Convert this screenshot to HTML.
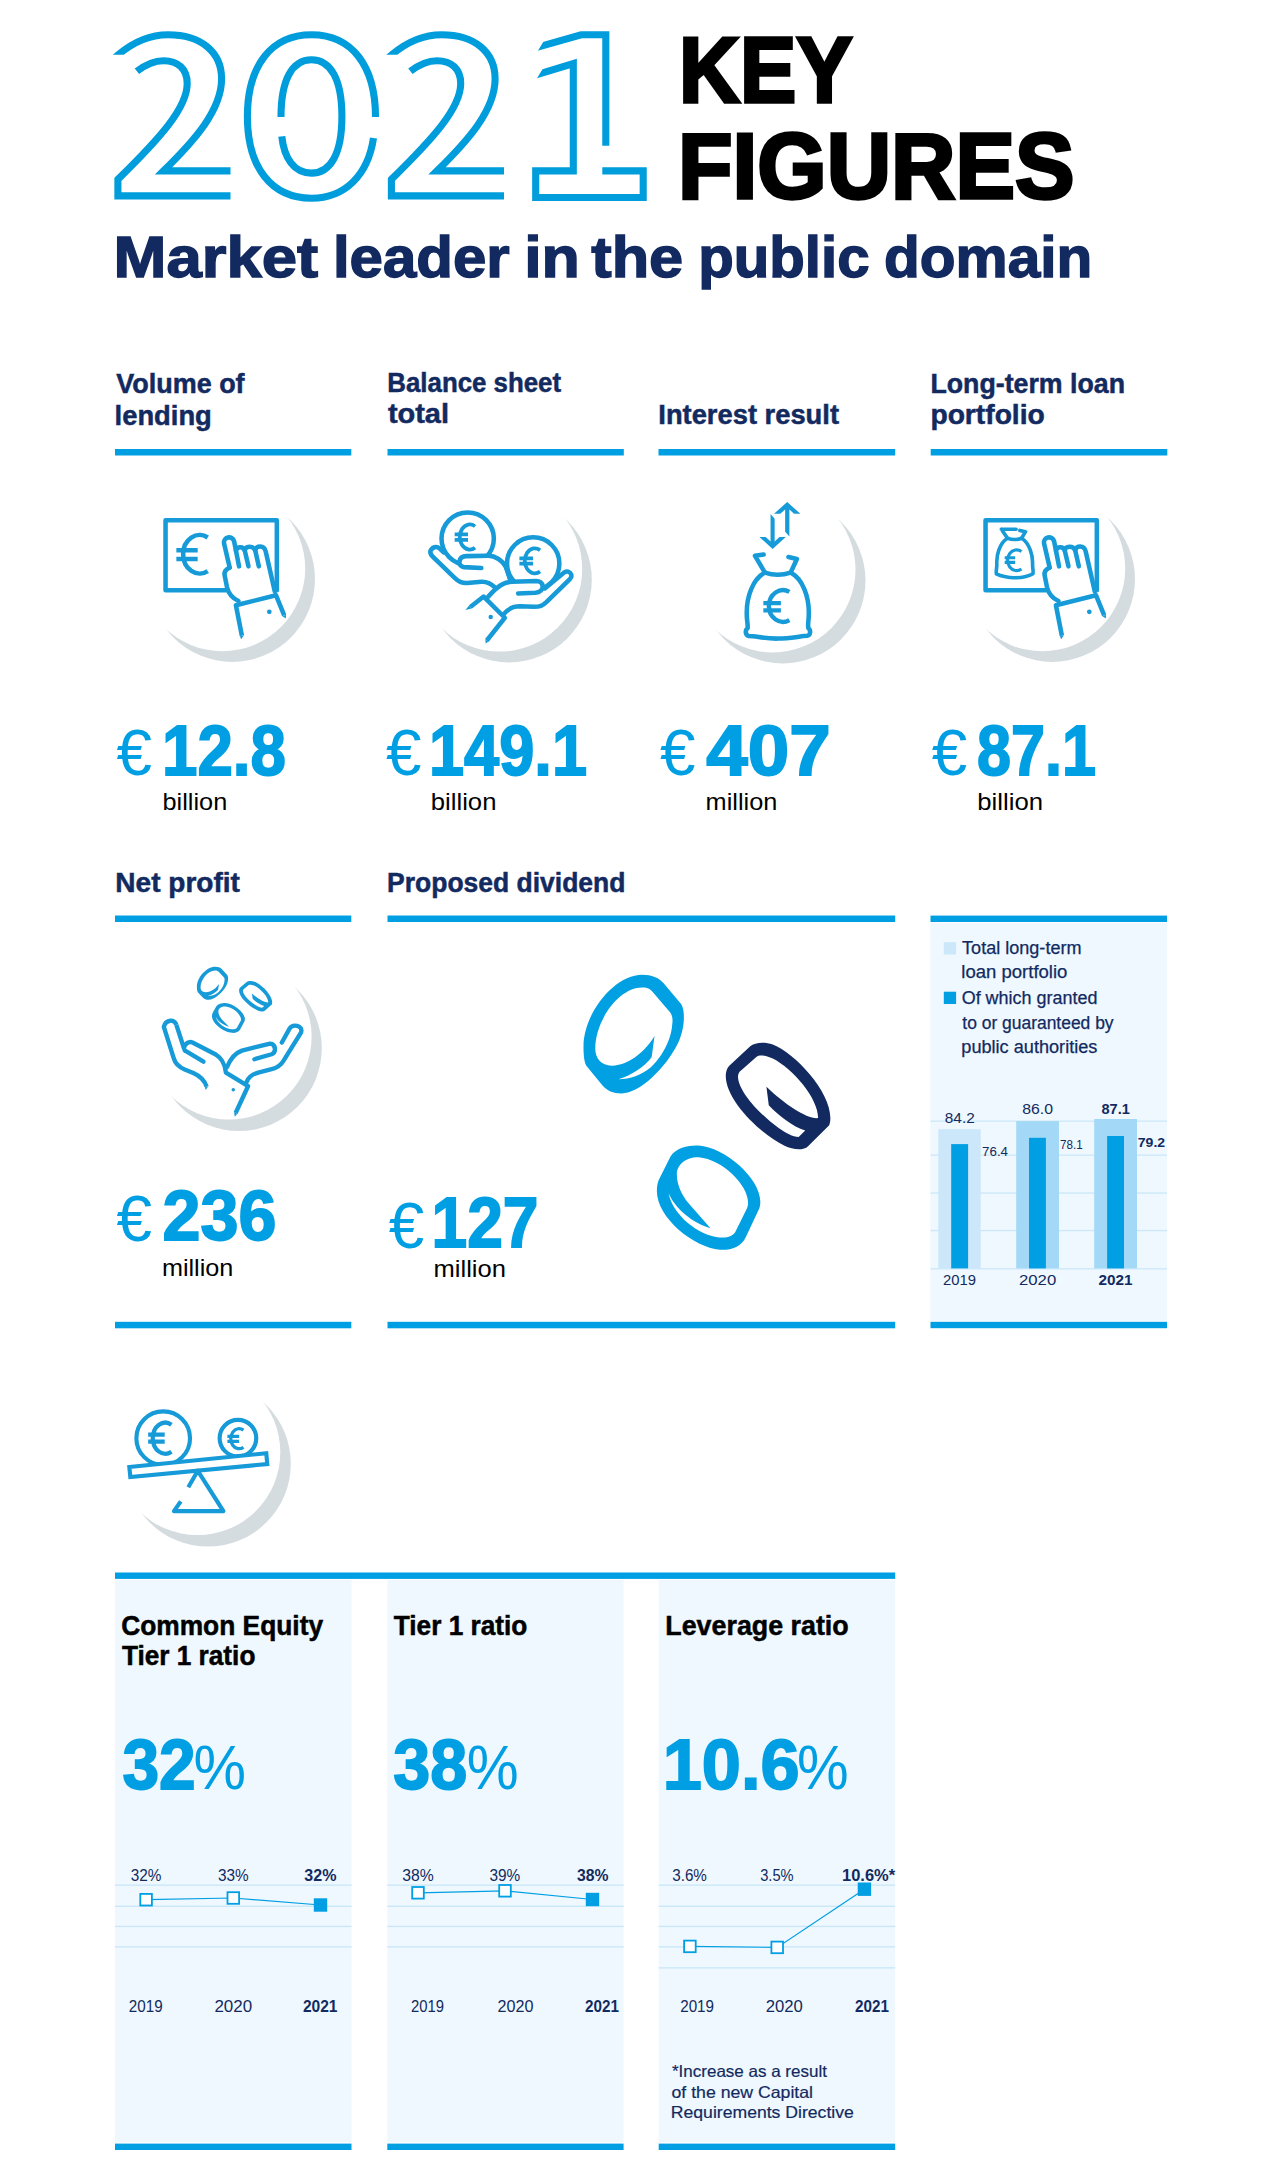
<!DOCTYPE html>
<html lang="en">
<head>
<meta charset="utf-8">
<title>2021 Key Figures</title>
<style>
html,body{margin:0;padding:0;background:#fff;}
body{width:1276px;height:2166px;overflow:hidden;font-family:"Liberation Sans",sans-serif;}
svg{display:block;position:absolute;left:0;top:0;}
text{font-family:"Liberation Sans",sans-serif;}
.b{font-weight:bold;}
.navy{fill:#122a60;}
.blue{fill:#009fe3;}
.ol{fill:none;stroke:#009ddc;stroke-width:7.1;stroke-linejoin:miter;stroke-miterlimit:10;}
.ic{fill:none;stroke:#179ad8;stroke-linecap:round;stroke-linejoin:round;}
</style>
</head>
<body>
<svg width="1276" height="2166" viewBox="0 0 1276 2166">
<!-- HEADER -->
<g id="hdr">
<defs><clipPath id="c2"><path d="M0,0 H240 V220 H0 V100 H130 V54.8 H0 Z"/></clipPath><clipPath id="c1"><path d="M550.4,30 L532.4,60 L548,60 L530,90 L525,90 L525,220 L700,220 L700,20 L550.4,20 Z"/></clipPath></defs>
<g class="ol">
<path id="two" clip-path="url(#c2)" d="M113.7,58.7 L118.3,54.8 C131,44 148,34.8 168.2,34.8 C201,34.8 221.6,52 221.6,78.8 C221.6,110 195,140 163.5,170.9 L230.5,170.9 M136.9,71.3 C145,65 154,60.7 163.5,60.7 C178,60.7 187.2,69 187.2,83.5 C187.2,108 160,138 117.9,179.4 L117.9,195.9 L230.5,195.9"/>
<use href="#two" x="273.5"/>
<path d="M375.5,116.9 C375.5,66 352,34.8 311.5,34.8 C271,34.8 247.4,66 247.4,116.5 C247.4,167 271,198.2 311.5,198.2 C345,198.2 368,175 373.5,138"/>
<path d="M281,116.9 C281,80 292,59.7 311.5,59.7 C331,59.7 341.9,80 341.9,116.5 C341.9,153 331,173.1 311.5,173.1 C294,173.1 284,158 281.8,136.4"/>
<path clip-path="url(#c1)" d="M535.9,47.7 L581.1,34.8 L605.8,34.8 L605.8,145.8 M535.2,75.05 L573.3,63.5 L573.3,170.9 L535.7,170.9 L535.7,197.5 L643.2,197.5 L643.2,170.9 L602.3,170.9"/>
</g>
<text x="679" y="101.8" class="b" font-size="93" fill="#000" stroke="#000" stroke-width="3.4" stroke-linejoin="miter" textLength="173.5" lengthAdjust="spacingAndGlyphs">KEY</text>
<text x="678" y="197.7" class="b" font-size="93" fill="#000" stroke="#000" stroke-width="3.4" stroke-linejoin="miter" textLength="396.5" lengthAdjust="spacingAndGlyphs">FIGURES</text>
<g class="b navy" font-size="57" stroke="#122a60" stroke-width="1.4">
<text x="113.5" y="276.5" textLength="204.7" lengthAdjust="spacingAndGlyphs">Market</text>
<text x="332.9" y="276.5" textLength="176.8" lengthAdjust="spacingAndGlyphs">leader</text>
<text x="524.2" y="276.5" textLength="55.7" lengthAdjust="spacingAndGlyphs">in</text>
<text x="591.3" y="276.5" textLength="91.9" lengthAdjust="spacingAndGlyphs">the</text>
<text x="698.3" y="276.5" textLength="171.2" lengthAdjust="spacingAndGlyphs">public</text>
<text x="884.0" y="276.5" textLength="208.3" lengthAdjust="spacingAndGlyphs">domain</text>
</g>
</g>
<g id="sec1">
<!-- column headers -->
<g class="b navy" font-size="27" stroke="#122a60" stroke-width="0.5">
<text x="116.3" y="392.6" textLength="128.3" lengthAdjust="spacingAndGlyphs">Volume of</text>
<text x="114.6" y="424.6" textLength="97.2" lengthAdjust="spacingAndGlyphs">lending</text>
<text x="387.3" y="391.9" textLength="173.8" lengthAdjust="spacingAndGlyphs">Balance sheet</text>
<text x="387.9" y="422.8" textLength="61.1" lengthAdjust="spacingAndGlyphs">total</text>
<text x="658.3" y="423.5" textLength="180.7" lengthAdjust="spacingAndGlyphs">Interest result</text>
<text x="930.4" y="393" textLength="194.6" lengthAdjust="spacingAndGlyphs">Long-term loan</text>
<text x="930.4" y="424.3" textLength="114.4" lengthAdjust="spacingAndGlyphs">portfolio</text>
<text x="115.3" y="891.6" textLength="124.6" lengthAdjust="spacingAndGlyphs">Net profit</text>
<text x="387.1" y="891.6" textLength="238.3" lengthAdjust="spacingAndGlyphs">Proposed dividend</text>
</g>
<!-- blue rules -->
<g fill="#009fe3">
<rect x="115" y="449" width="236.3" height="6.5"/>
<rect x="387.5" y="449" width="236.3" height="6.5"/>
<rect x="658.5" y="449" width="236.7" height="6.5"/>
<rect x="930.7" y="449" width="236.6" height="6.5"/>
<rect x="115" y="915.5" width="236.3" height="6.5"/>
<rect x="387.5" y="915.5" width="507.7" height="6.5"/>
<rect x="115" y="1321.8" width="236.3" height="6.5"/>
<rect x="387.5" y="1321.8" width="507.7" height="6.5"/>
</g>
<!-- crescents -->
<g>
<circle cx="232.2" cy="579.1" r="82.8" fill="#d5dce0"/><circle cx="222.4" cy="568.4" r="82.8" fill="#fff"/>
<circle cx="509" cy="579.6" r="82.8" fill="#d5dce0"/><circle cx="499.4" cy="568.8" r="82.8" fill="#fff"/>
<circle cx="782.7" cy="580.6" r="82.8" fill="#d5dce0"/><circle cx="772.7" cy="569.6" r="82.8" fill="#fff"/>
<circle cx="1052.2" cy="579.1" r="82.8" fill="#d5dce0"/><circle cx="1042.4" cy="568.4" r="82.8" fill="#fff"/>
<circle cx="239" cy="1048.2" r="82.8" fill="#d5dce0"/><circle cx="228.8" cy="1036.7" r="82.8" fill="#fff"/>
</g>
<!-- values -->
<g class="blue">
<g font-size="64.5">
<text x="116.5" y="775" textLength="35.5" lengthAdjust="spacingAndGlyphs">€</text>
<text x="386.0" y="775" textLength="35.5" lengthAdjust="spacingAndGlyphs">€</text>
<text x="660.0" y="775" textLength="35.5" lengthAdjust="spacingAndGlyphs">€</text>
<text x="931.7" y="775" textLength="35.5" lengthAdjust="spacingAndGlyphs">€</text>
<text x="116.5" y="1241" textLength="35.5" lengthAdjust="spacingAndGlyphs">€</text>
<text x="388.8" y="1247.5" textLength="35.5" lengthAdjust="spacingAndGlyphs">€</text>
</g>
<g class="b" font-size="71" stroke="#009fe3" stroke-width="1.8">
<text x="162" y="774.5" textLength="124" lengthAdjust="spacingAndGlyphs">12.8</text>
<text x="429" y="774.5" textLength="158" lengthAdjust="spacingAndGlyphs">149.1</text>
<text x="706.3" y="774.5" textLength="124.5" lengthAdjust="spacingAndGlyphs">407</text>
<text x="977" y="774.5" textLength="119" lengthAdjust="spacingAndGlyphs">87.1</text>
<text x="162.5" y="1240.3" textLength="114" lengthAdjust="spacingAndGlyphs">236</text>
<text x="431.5" y="1246.7" textLength="107" lengthAdjust="spacingAndGlyphs">127</text>
</g>
</g>
<g font-size="24" fill="#000">
<text x="162.5" y="809.6" textLength="64.7" lengthAdjust="spacingAndGlyphs">billion</text>
<text x="430.8" y="809.6" textLength="65.6" lengthAdjust="spacingAndGlyphs">billion</text>
<text x="705.6" y="809.8" textLength="71.7" lengthAdjust="spacingAndGlyphs">million</text>
<text x="977.3" y="809.6" textLength="65.7" lengthAdjust="spacingAndGlyphs">billion</text>
<text x="161.9" y="1276.3" textLength="71.5" lengthAdjust="spacingAndGlyphs">million</text>
<text x="433.5" y="1277" textLength="72.4" lengthAdjust="spacingAndGlyphs">million</text>
</g>
</g>

<g id="icons">
<defs>
<g id="hand1">
<path d="M548,640 L163,640 L163,193 L873,193 L873,640"/>
<path d="M572,495 L536,340 A33,33 0 0 1 600,325 L632,487"/>
<path d="M612,388 C615,362 657,355 668,385 L692,487"/>
<path d="M668,385 C672,356 722,352 735,385 L758,487"/>
<path d="M735,385 C740,352 792,350 802,392 L860,648"/>
<path d="M572,495 C550,505 535,520 540,545 L555,620 C565,660 590,690 628,708"/>
<path d="M650,930 L612,735 L868,672 L920,800" stroke-linecap="butt"/>
<path d="M637.7,932.4 L662.3,927.6 L645,952 Z M908.4,804.7 L931.6,795.3 L931,820 Z" fill="#179ad8" stroke="none"/>
<circle cx="825" cy="777" r="15" fill="#179ad8" stroke="none"/>
</g>
</defs>
<!-- icon 1: euro note + hand -->
<g class="ic" transform="translate(140,490) scale(0.15674)" stroke-width="29">
<use href="#hand1"/>
<path d="M432,303 A105,123 0 1,0 432,517 M232,385 L368,385 M232,440 L368,440" stroke-linecap="butt" stroke-width="29"/>
</g>
<!-- icon 4: money bag note + hand -->
<g class="ic" transform="translate(960,490) scale(0.15674)" stroke-width="29">
<use href="#hand1"/>
<g stroke-width="23">
<path d="M264,250 L358,250 M264,250 L303,308 C250,340 232,420 235,470 C236,500 228,520 232,535 C260,550 320,562 350,560 C400,560 450,545 465,535 C470,520 462,500 463,470 C465,420 445,340 393,308 L418,266 L382,258"/>
<path d="M303,308 C330,318 365,318 393,308"/>
<path d="M392,392 A58,66 0 1,0 392,504 M285,432 L352,432 M285,462 L352,462" stroke-width="20" stroke-linecap="butt"/>
</g>
</g>
<!-- icon 2: hands with coins -->
<g class="ic" transform="translate(410,490) scale(0.15674)" stroke-width="29">
<circle cx="368" cy="310" r="167"/>
<path d="M415,232 A64,80 0 1,0 415,368 M285,283 L370,283 M285,318 L370,318" stroke-width="24" stroke-linecap="butt"/>
<path d="M215,398 L188,372 C170,355 140,365 130,390 C128,400 135,415 145,425 L285,560 C310,585 330,595 365,593 L455,585 C490,583 520,600 540,620"/>
<path d="M455,498 L345,492 C325,490 312,475 316,455 C320,430 340,422 360,422 L500,420 C545,420 590,450 612,490 L640,572" fill="#fff"/>
<circle cx="786" cy="469" r="167" fill="#fff"/>
<path d="M830,384 A64,80 0 1,0 830,520 M698,436 L785,436 M698,470 L785,470" stroke-width="24" stroke-linecap="butt"/>
<path d="M612,490 L640,572" />
<path d="M690,660 L800,655 C830,652 848,635 846,612 C844,590 825,580 805,580 L650,585 C600,588 560,610 500,680" fill="#fff"/>
<path d="M860,628 L985,525 C1000,515 1020,520 1028,538 C1032,548 1028,560 1020,568 L870,715 C845,738 830,745 790,745 L700,742 C660,742 620,765 598,792"/>
<path d="M385,747 L470,680 L605,815 L490,960" stroke-linecap="butt"/>
<path d="M392.7,756.8 L377.3,737.2 L353,765 Z M499.8,967.8 L480.2,952.2 L483,980 Z" fill="#179ad8" stroke="none"/>
<circle cx="515" cy="810" r="14" fill="#179ad8" stroke="none"/>
</g>
<!-- icon 3: money bag with arrows -->
<g class="ic" transform="translate(690,490) scale(0.15674)" stroke-width="29">
<path d="M478,527 C400,570 360,680 362,790 C362,830 370,860 368,880 C350,895 352,925 375,932 C420,932 480,950 560,948 C640,948 700,932 748,930 C770,925 772,895 755,880 C750,860 758,830 758,790 C760,680 720,570 642,527"/>
<path d="M478,527 C530,545 590,545 642,527"/>
<path d="M478,527 L415,420 L470,412 M642,527 L682,440 L628,428"/>
<path d="M634,650 A90,101 0 1,0 634,830 M468,722 L580,722 M468,768 L580,768" stroke-width="28" stroke-linecap="butt"/>
<g fill="#179ad8" stroke="none">
<path d="M620,76 L704,152 L664,152 L634,124 L634,297 L607,266 L607,124 L576,152 L536,152 Z"/>
<path d="M527,376 L443,300 L483,300 L514,328 L514,153 L540,184 L540,328 L571,300 L611,300 Z"/>
</g>
</g>
<!-- icon 5: hands catching coins -->
<g class="ic" transform="translate(140,950) scale(0.15674)" stroke-width="28">
<path d="M232,478 C222,440 165,440 152,490 L215,690 C225,725 250,748 285,762 L340,785 C385,805 412,830 425,872" stroke-linecap="butt"/>
<path d="M232,478 L280,625 C285,600 310,580 335,590 L480,665 C520,690 540,720 548,782 L690,868 L610,1040" stroke-linecap="butt"/>
<path d="M620.4,1044.9 L599.6,1035.1 L605,1064 Z M436,868.6 L414,875.4 L419,893 Z" fill="#179ad8" stroke="none"/>
<path d="M285,640 L405,712"/>
<path d="M905,590 L955,500 C975,470 1040,480 1028,525 L920,700 C900,735 875,752 840,760 L760,780 C720,790 690,815 680,842"/>
<path d="M730,697 L840,665 C870,655 868,600 830,597 L650,642 C600,660 570,710 555,748"/>
<circle cx="595" cy="892" r="11" fill="#179ad8" stroke="none"/>
</g>
</g>
<!-- ENDICONS -->
<g id="sec2">
<!-- big coins -->
<defs>
<path id="c1h" d="M100,410 C100,270 230,105 350,105 C390,105 420,118 440,140 L515,230 C535,260 530,340 500,400 C450,500 340,610 262,610 C225,610 200,598 180,575 L112,492 C102,475 100,440 100,410 Z"/>
<path id="c1i" d="M150,420 C150,300 250,160 350,160 C375,160 385,168 397,182 L468,265 C480,280 480,300 477,320 C472,390 425,465 385,500 C345,532 300,550 248,550 C300,535 360,497 390,455 L402,366 C370,420 300,492 220,492 C175,492 150,460 150,420 Z"/>
<path id="c2h" d="M720,492 L808,410 C830,392 870,390 905,402 C1000,440 1150,600 1150,715 C1150,728 1148,738 1145,745 L1055,835 C1035,855 990,850 955,833 C850,780 705,640 705,535 C705,518 710,502 720,492 Z"/>
<path id="c2i" d="M757,538 C758,525 762,518 770,512 L835,455 C850,443 880,450 905,462 C990,505 1098,630 1098,715 C1050,720 960,660 878,582 L888,660 C930,705 990,750 1043,768 L1015,795 C990,795 960,778 930,757 C850,700 757,600 757,538 Z"/>
<path id="c3h" d="M470,878 C495,840 550,830 590,832 C700,840 852,970 852,1070 C852,1085 850,1095 845,1105 L790,1222 C770,1265 725,1278 680,1275 C570,1265 412,1140 412,1025 C412,1005 415,990 420,978 Z"/>
<path id="c3i" d="M497,955 C497,910 540,880 590,882 C690,890 800,1000 800,1075 C800,1085 798,1092 795,1100 L745,1200 C730,1222 700,1225 670,1222 C590,1212 480,1130 462,1035 C490,1100 560,1160 640,1183 L545,1075 C520,1045 497,1000 497,955 Z"/>
</defs>
<g transform="translate(560,950) scale(0.23511)">
<use href="#c1h" fill="#00a0e3"/>
<use href="#c1i" fill="#fff"/>
<use href="#c2h" fill="#122a60"/>
<use href="#c2i" fill="#fff"/>
<use href="#c3h" fill="#00a0e3"/>
<use href="#c3i" fill="#fff"/>
</g>
<g fill="#179ad8">
<g transform="translate(196.9,966.8) scale(0.07312,0.06548) translate(-100,-105)"><use href="#c1h"/><use href="#c1i" fill="#fff"/></g>
<g transform="translate(239.06,980.86) scale(0.07439,0.06703) translate(-705,-392)"><use href="#c2h"/><use href="#c2i" fill="#fff"/></g>
<g transform="translate(211.98,1002.96) scale(0.07481,0.0672) translate(-412,-830)"><use href="#c3h"/><use href="#c3i" fill="#fff"/></g>
</g>
<!-- bar chart panel -->
<rect x="930.3" y="923.1" width="236.8" height="397.7" fill="#eff8fe"/>
<rect x="930.5" y="915.6" width="236.5" height="6.4" fill="#009fe3"/>
<rect x="930.5" y="1321.8" width="236.5" height="6.4" fill="#009fe3"/>
<g fill="#cbe7f9">
<rect x="930.5" y="1120.5" width="236.5" height="1.3"/>
<rect x="930.5" y="1154.5" width="236.5" height="1.3"/>
<rect x="930.5" y="1192.4" width="236.5" height="1.3"/>
<rect x="930.5" y="1229.9" width="236.5" height="1.3"/>
<rect x="930.5" y="1268.2" width="236.5" height="1.3"/>
</g>
<rect x="943.8" y="942.2" width="12.3" height="12.3" fill="#cbe7f9"/>
<rect x="943.8" y="991.7" width="12.3" height="12.3" fill="#009fe3"/>
<g class="navy" font-size="17.5" stroke="#122a60" stroke-width="0.25">
<text x="962.1" y="954" textLength="119.4" lengthAdjust="spacingAndGlyphs">Total long-term</text>
<text x="961.3" y="978.4" textLength="106.1" lengthAdjust="spacingAndGlyphs">loan portfolio</text>
<text x="961.7" y="1003.9" textLength="135.7" lengthAdjust="spacingAndGlyphs">Of which granted</text>
<text x="962.3" y="1028.8" textLength="151.3" lengthAdjust="spacingAndGlyphs">to or guaranteed by</text>
<text x="961.3" y="1053.2" textLength="136.1" lengthAdjust="spacingAndGlyphs">public authorities</text>
</g>
<rect x="938.3" y="1129.2" width="42.4" height="139.2" fill="#cbe7f9"/>
<rect x="1016.2" y="1121.1" width="42.8" height="147.3" fill="#a3d9f6"/>
<rect x="1094.2" y="1119" width="42.8" height="149.4" fill="#a3d9f6"/>
<g fill="#009fe3">
<rect x="951.2" y="1144.1" width="16.9" height="124.3"/>
<rect x="1029" y="1137.8" width="16.9" height="130.6"/>
<rect x="1107.1" y="1136" width="16.9" height="132.4"/>
</g>
<g class="navy" font-size="15.5">
<text x="944.8" y="1123.3" textLength="29.9" lengthAdjust="spacingAndGlyphs">84.2</text>
<text x="1022.2" y="1114.2" textLength="30.8" lengthAdjust="spacingAndGlyphs">86.0</text>
<text x="1101.5" y="1114.2" class="b" textLength="28.4" lengthAdjust="spacingAndGlyphs">87.1</text>
<text x="943.1" y="1284.9" textLength="33.0" lengthAdjust="spacingAndGlyphs">2019</text>
<text x="1019.0" y="1284.9" textLength="37.2" lengthAdjust="spacingAndGlyphs">2020</text>
<text x="1098.4" y="1284.9" class="b" textLength="34.0" lengthAdjust="spacingAndGlyphs">2021</text>
</g>
<g class="navy" font-size="13.5">
<text x="982.1" y="1155.9" textLength="25.9" lengthAdjust="spacingAndGlyphs">76.4</text>
<text x="1060.0" y="1149.2" textLength="22.6" lengthAdjust="spacingAndGlyphs">78.1</text>
<text x="1137.8" y="1147.2" class="b" textLength="27.3" lengthAdjust="spacingAndGlyphs">79.2</text>
</g>
</g>
<!-- ENDSEC2 -->
<g id="sec3">
<!-- balance icon -->
<circle cx="208" cy="1463.8" r="82.8" fill="#d5dce0"/><circle cx="197.5" cy="1452.3" r="82.8" fill="#fff"/>
<g class="ic" transform="translate(100,1380) scale(0.25078)" stroke-width="16.5">
<circle cx="252" cy="232" r="107"/>
<path d="M285,178 A50,62 0 1,0 285,286 M192,218 L258,218 M192,246 L258,246" stroke-width="17" stroke-linecap="butt"/>
<circle cx="550" cy="232" r="73"/>
<path d="M572,200 A33,40 0 1,0 572,268 M508,225 L555,225 M508,245 L555,245" stroke-width="13" stroke-linecap="butt"/>
<path d="M117,347 L663,292 L667,335 L121,387 Z" stroke-linejoin="miter" fill="#fff"/>
<path d="M352,428 L390,362 L492,523 L295,523 L322,484" stroke-linecap="butt"/>
</g>
<!-- panels -->
<g fill="#eff8fe">
<rect x="115" y="1580" width="236.5" height="562.4"/>
<rect x="387.3" y="1580" width="236.3" height="562.4"/>
<rect x="658.7" y="1580" width="236.5" height="562.4"/>
</g>
<g fill="#009fe3">
<rect x="115" y="1572.5" width="780.2" height="6.4"/>
<rect x="115" y="2143.6" width="236.5" height="6.4"/>
<rect x="387.3" y="2143.6" width="236.3" height="6.4"/>
<rect x="658.7" y="2143.6" width="236.5" height="6.4"/>
</g>
<g class="b" font-size="27" fill="#000" stroke="#000" stroke-width="0.5">
<text x="121.2" y="1634.7" textLength="201.9" lengthAdjust="spacingAndGlyphs">Common Equity</text>
<text x="121.9" y="1665.3" textLength="133.5" lengthAdjust="spacingAndGlyphs">Tier 1 ratio</text>
<text x="393.8" y="1634.7" textLength="133.5" lengthAdjust="spacingAndGlyphs">Tier 1 ratio</text>
<text x="665.3" y="1634.7" textLength="183.4" lengthAdjust="spacingAndGlyphs">Leverage ratio</text>
</g>
<g class="blue">
<g class="b" font-size="71" stroke="#009fe3" stroke-width="1.8">
<text x="122.4" y="1788.6" textLength="73.3" lengthAdjust="spacingAndGlyphs">32</text>
<text x="393.3" y="1788.6" textLength="73.9" lengthAdjust="spacingAndGlyphs">38</text>
<text x="662.7" y="1788.6" textLength="136.9" lengthAdjust="spacingAndGlyphs">10.6</text>
</g>
<g font-size="62.5">
<text x="193.4" y="1788.6" textLength="52.5" lengthAdjust="spacingAndGlyphs">%</text>
<text x="466.7" y="1788.6" textLength="51.9" lengthAdjust="spacingAndGlyphs">%</text>
<text x="796.9" y="1788.6" textLength="51.6" lengthAdjust="spacingAndGlyphs">%</text>
</g>
</g>
<!-- grid lines -->
<g fill="#c8e6f8">
<rect x="115" y="1884.5" width="236.5" height="1.3"/><rect x="115" y="1905.6" width="236.5" height="1.3"/><rect x="115" y="1925.8" width="236.5" height="1.3"/><rect x="115" y="1946.2" width="236.5" height="1.3"/>
<rect x="387.3" y="1884.5" width="236.3" height="1.3"/><rect x="387.3" y="1905.6" width="236.3" height="1.3"/><rect x="387.3" y="1925.8" width="236.3" height="1.3"/><rect x="387.3" y="1946.2" width="236.3" height="1.3"/>
<rect x="658.7" y="1884.5" width="236.5" height="1.3"/><rect x="658.7" y="1905.6" width="236.5" height="1.3"/><rect x="658.7" y="1925.8" width="236.5" height="1.3"/><rect x="658.7" y="1946.2" width="236.5" height="1.3"/><rect x="658.7" y="1967.2" width="236.5" height="1.3"/>
</g>
<!-- lines + markers -->
<g fill="none" stroke="#009fe3" stroke-width="1.2">
<polyline points="146.1,1899.7 233.3,1898 320.5,1905"/>
<polyline points="418,1892.8 505,1890.8 592.5,1899.5"/>
<polyline points="689.9,1946.4 777.2,1947.4 864.4,1889.2"/>
</g>
<g fill="#fff" stroke="#009fe3" stroke-width="1.8">
<rect x="140.3" y="1893.9" width="11.6" height="11.6"/><rect x="227.5" y="1892.2" width="11.6" height="11.6"/>
<rect x="412.2" y="1887" width="11.6" height="11.6"/><rect x="499.2" y="1885" width="11.6" height="11.6"/>
<rect x="684.1" y="1940.6" width="11.6" height="11.6"/><rect x="771.4" y="1941.6" width="11.6" height="11.6"/>
</g>
<g fill="#009fe3">
<rect x="313.8" y="1898.3" width="13.4" height="13.4"/>
<rect x="585.8" y="1892.8" width="13.4" height="13.4"/>
<rect x="857.7" y="1882.5" width="13.4" height="13.4"/>
</g>
<!-- labels -->
<g class="navy" font-size="16">
<text x="130.7" y="1880.9" textLength="30.7" lengthAdjust="spacingAndGlyphs">32%</text>
<text x="217.9" y="1880.9" textLength="30.7" lengthAdjust="spacingAndGlyphs">33%</text>
<text x="304.3" y="1880.9" class="b" textLength="32.1" lengthAdjust="spacingAndGlyphs">32%</text>
<text x="402.2" y="1880.9" textLength="31.5" lengthAdjust="spacingAndGlyphs">38%</text>
<text x="489.4" y="1880.9" textLength="30.8" lengthAdjust="spacingAndGlyphs">39%</text>
<text x="577.0" y="1880.9" class="b" textLength="31.4" lengthAdjust="spacingAndGlyphs">38%</text>
<text x="672.2" y="1880.9" textLength="34.7" lengthAdjust="spacingAndGlyphs">3.6%</text>
<text x="760.2" y="1880.9" textLength="33.4" lengthAdjust="spacingAndGlyphs">3.5%</text>
<text x="842.0" y="1880.9" class="b" textLength="53.1" lengthAdjust="spacingAndGlyphs">10.6%*</text>
<text x="128.8" y="2012" textLength="33.8" lengthAdjust="spacingAndGlyphs">2019</text>
<text x="214.4" y="2012" textLength="37.7" lengthAdjust="spacingAndGlyphs">2020</text>
<text x="302.9" y="2012" class="b" textLength="34.6" lengthAdjust="spacingAndGlyphs">2021</text>
<text x="411.0" y="2012" textLength="33.0" lengthAdjust="spacingAndGlyphs">2019</text>
<text x="497.6" y="2012" textLength="35.9" lengthAdjust="spacingAndGlyphs">2020</text>
<text x="585.1" y="2012" class="b" textLength="33.9" lengthAdjust="spacingAndGlyphs">2021</text>
<text x="680.2" y="2012" textLength="33.8" lengthAdjust="spacingAndGlyphs">2019</text>
<text x="765.8" y="2012" textLength="37.1" lengthAdjust="spacingAndGlyphs">2020</text>
<text x="855.0" y="2012" class="b" textLength="33.9" lengthAdjust="spacingAndGlyphs">2021</text>
</g>
<g class="navy" font-size="16.5" stroke="#122a60" stroke-width="0.2">
<text x="672.0" y="2076.8" textLength="154.9" lengthAdjust="spacingAndGlyphs">*Increase as a result</text>
<text x="671.5" y="2098.2" textLength="141.5" lengthAdjust="spacingAndGlyphs">of the new Capital</text>
<text x="670.8" y="2118" textLength="183.0" lengthAdjust="spacingAndGlyphs">Requirements Directive</text>
</g>
</g>
<!-- ENDSEC3 -->
</svg>
</body>
</html>
